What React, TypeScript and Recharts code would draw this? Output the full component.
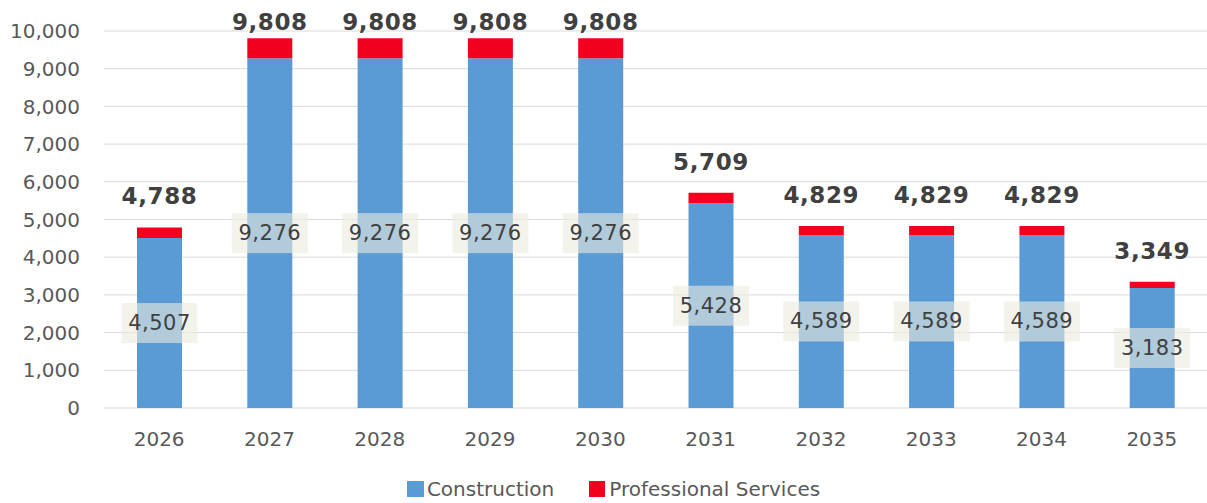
import React from "react";
import {
  BarChart,
  Bar,
  XAxis,
  YAxis,
  CartesianGrid,
  Legend,
  LabelList,
} from "recharts";

const years = ["2026", "2027", "2028", "2029", "2030", "2031", "2032", "2033", "2034", "2035"];
const construction = [4507, 9276, 9276, 9276, 9276, 5428, 4589, 4589, 4589, 3183];
const professional = [281, 532, 532, 532, 532, 281, 240, 240, 240, 166];
const yTicks = [0, 1000, 2000, 3000, 4000, 5000, 6000, 7000, 8000, 9000, 10000];

const data = years.map((year, i) => ({
  year,
  construction: construction[i],
  professional: professional[i],
  total: construction[i] + professional[i],
}));

const FONT = "'DejaVu Sans', Verdana, sans-serif";
const fmt = (v: number) => v.toLocaleString("en-US");

const InsideLabel = (props: any) => {
  const { x, y, width, height, value } = props;
  const cx = x + width / 2;
  const cy = y + height / 2;
  return (
    <g>
      <rect x={cx - 38} y={cy - 20} width={76} height={40} fill="#ebebdf" fillOpacity={0.6} />
      <text
        x={cx}
        y={cy}
        textAnchor="middle"
        dominantBaseline="central"
        fontFamily={FONT}
        fontSize={21}
        letterSpacing={0.5}
        fill="#404040"
      >
        {fmt(value)}
      </text>
    </g>
  );
};

// total sits above the stack, but is kept inside the top of the chart
const TotalLabel = (props: any) => {
  const { x, y, width, index } = props;
  return (
    <text
      x={x + width / 2}
      y={Math.max(y - 23, 30)}
      textAnchor="middle"
      fontFamily={FONT}
      fontSize={23}
      letterSpacing={0.6}
      fontWeight="bold"
      fill="#404040"
    >
      {fmt(data[index].total)}
    </text>
  );
};

const LegendContent = () => (
  <div
    style={{
      display: "flex",
      justifyContent: "center",
      gap: 35,
      fontFamily: FONT,
      fontSize: 20,
      color: "#595959",
      paddingLeft: 20,
      paddingTop: 9,
    }}
  >
    <span style={{ display: "flex", alignItems: "center" }}>
      <span style={{ width: 17, height: 16, background: "#5b9bd5", marginRight: 3 }} />
      Construction
    </span>
    <span style={{ display: "flex", alignItems: "center" }}>
      <span style={{ width: 16, height: 16, background: "#f2001d", marginRight: 4 }} />
      Professional Services
    </span>
  </div>
);

export default function App() {
  return (
    <div style={{ position: "absolute", left: 0, top: 0, background: "#fff" }}>
      <BarChart
        width={1207}
        height={503}
        data={data}
        margin={{ top: 31, right: 0, left: 0, bottom: 4 }}
      >
        <CartesianGrid vertical={false} stroke="#d9d9d9" />
        <XAxis
          dataKey="year"
          axisLine={false}
          tickLine={false}
          tickSize={0}
          tickMargin={24}
          height={60}
          tick={{ fontSize: 20, fill: "#595959", fontFamily: FONT }}
        />
        <YAxis
          width={104}
          domain={[0, 10000]}
          ticks={yTicks}
          axisLine={false}
          tickLine={false}
          tickSize={0}
          tickMargin={24}
          tickFormatter={fmt}
          tick={{ fontSize: 20, fill: "#595959", fontFamily: FONT }}
        />
        <Legend verticalAlign="bottom" height={31} content={<LegendContent />} />
        <Bar dataKey="construction" stackId="a" fill="#5b9bd5" barSize={45} isAnimationActive={false}>
          <LabelList dataKey="construction" content={<InsideLabel />} />
        </Bar>
        <Bar dataKey="professional" stackId="a" fill="#f2001d" barSize={45} isAnimationActive={false}>
          <LabelList dataKey="professional" content={<TotalLabel />} />
        </Bar>
      </BarChart>
    </div>
  );
}
